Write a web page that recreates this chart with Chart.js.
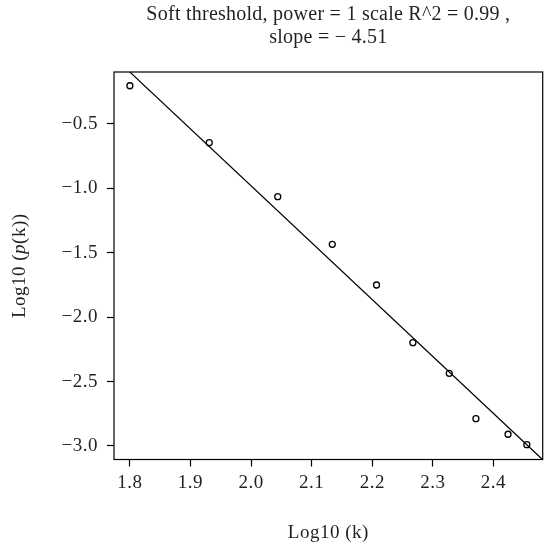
<!DOCTYPE html>
<html>
<head>
<meta charset="utf-8">
<title>Soft threshold scale free fit</title>
<script src="https://cdn.jsdelivr.net/npm/chart.js@4.4.1/dist/chart.umd.min.js"></script>
<style>
    html, body { margin: 0; padding: 0; background: #ffffff; }
    #wrap { width: 548px; height: 545px; }
</style>
</head>
<body>
<div id="wrap"><canvas id="scaleFreeChart" width="548" height="545"></canvas></div>
<script>
// values
const logK = [1.800, 1.931, 2.044, 2.134, 2.207, 2.267, 2.327, 2.371, 2.424, 2.455];
const logPk = [-0.203, -0.645, -1.064, -1.434, -1.750, -2.198, -2.436, -2.788, -2.909, -2.990];

// fitted line (abline of lm), its two ends
const fitX = [1.780, 2.480];
const fitY = [-0.008, -3.101];

const xTicks = [1.8, 1.9, 2.0, 2.1, 2.2, 2.3, 2.4];
const yTicks = [-0.5, -1.0, -1.5, -2.0, -2.5, -3.0];
const xRange = [1.7738, 2.4812];
const yRange = [-3.105, -0.0963];

const titleLines = ["Soft threshold, power = 1 scale R^2 = 0.99 ,", "slope = \u2212 4.51"];
const xTitle = "Log10 (k)";

const textColor = "#231f20";
const serif = "'Liberation Serif', 'DejaVu Serif', serif";

function fmt(v) {
    return v.toFixed(1).replace("-", "\u2212");
}

// the reference font (Minion) runs a bit wider than Times
const spacing = {
    id: "spacing",
    beforeUpdate(chart) { chart.ctx.letterSpacing = "0.5px"; },
    beforeDraw(chart) { chart.ctx.letterSpacing = "0.5px"; }
};

// title, axis titles and the box around the plot
const decorations = {
    id: "decorations",
    afterDraw(chart) {
        const ctx = chart.ctx;
        const area = chart.chartArea;
        const midX = (area.left + area.right) / 2;

        ctx.save();
        ctx.strokeStyle = "#000000";
        ctx.lineWidth = 1.2;
        ctx.strokeRect(area.left, area.top, area.right - area.left, area.bottom - area.top);

        ctx.fillStyle = textColor;
        ctx.letterSpacing = "0.25px";
        ctx.font = "20px " + serif;
        ctx.textAlign = "center";
        ctx.textBaseline = "alphabetic";
        ctx.fillText(titleLines[0], midX, 20);
        ctx.fillText(titleLines[1], midX, 43);

        ctx.letterSpacing = "0.5px";
        ctx.font = "19px " + serif;
        ctx.textBaseline = "middle";
        ctx.fillText(xTitle, midX, 533);

        // y title with an italic p
        const parts = [
            { t: "Log10 (", f: "19px " + serif },
            { t: "p", f: "italic 19px " + serif },
            { t: "(k))", f: "19px " + serif }
        ];
        let total = 0;
        parts.forEach(p => { ctx.font = p.f; p.w = ctx.measureText(p.t).width; total += p.w; });
        ctx.translate(20, (area.top + area.bottom) / 2);
        ctx.rotate(-Math.PI / 2);
        ctx.textAlign = "left";
        let x = -total / 2;
        parts.forEach(p => { ctx.font = p.f; ctx.fillText(p.t, x, 0); x += p.w; });
        ctx.restore();
    }
};

const ctx = document.getElementById("scaleFreeChart").getContext("2d");

new Chart(ctx, {
    type: "scatter",
    data: {
        datasets: [
            {
                label: "points",
                data: logK.map((v, i) => ({ x: v, y: logPk[i] })),
                pointStyle: "circle",
                pointRadius: 3,
                pointBorderWidth: 1.3,
                pointBorderColor: "#000000",
                pointBackgroundColor: "rgba(0,0,0,0)",
                showLine: false
            },
            {
                label: "fit",
                type: "line",
                data: fitX.map((v, i) => ({ x: v, y: fitY[i] })),
                borderColor: "#000000",
                borderWidth: 1.2,
                pointRadius: 0,
                fill: false
            }
        ]
    },
    options: {
        responsive: false,
        animation: false,
        layout: {
            padding: { top: 72, right: 1, bottom: 0, left: 0 }
        },
        plugins: {
            legend: { display: false },
            title: { display: false },
            tooltip: { enabled: false }
        },
        scales: {
            x: {
                type: "linear",
                min: xRange[0],
                max: xRange[1],
                afterBuildTicks: axis => { axis.ticks = xTicks.map(v => ({ value: v })); },
                afterFit: axis => { axis.height = 85.5; },
                grid: {
                    drawOnChartArea: false,
                    drawTicks: true,
                    tickLength: 7,
                    tickWidth: 1.2,
                    tickColor: "#000000"
                },
                border: { display: false },
                ticks: {
                    autoSkip: false,
                    maxRotation: 0,
                    padding: 5,
                    color: textColor,
                    font: { family: serif, size: 19 },
                    callback: v => fmt(v)
                }
            },
            y: {
                type: "linear",
                min: yRange[0],
                max: yRange[1],
                afterBuildTicks: axis => { axis.ticks = yTicks.map(v => ({ value: v })); },
                afterFit: axis => { axis.width = 114; },
                grid: {
                    drawOnChartArea: false,
                    drawTicks: true,
                    tickLength: 7,
                    tickWidth: 1.2,
                    tickColor: "#000000"
                },
                border: { display: false },
                ticks: {
                    autoSkip: false,
                    padding: 9,
                    color: textColor,
                    font: { family: serif, size: 19 },
                    callback: v => fmt(v)
                }
            }
        }
    },
    plugins: [spacing, decorations]
});
</script>
</body>
</html>
